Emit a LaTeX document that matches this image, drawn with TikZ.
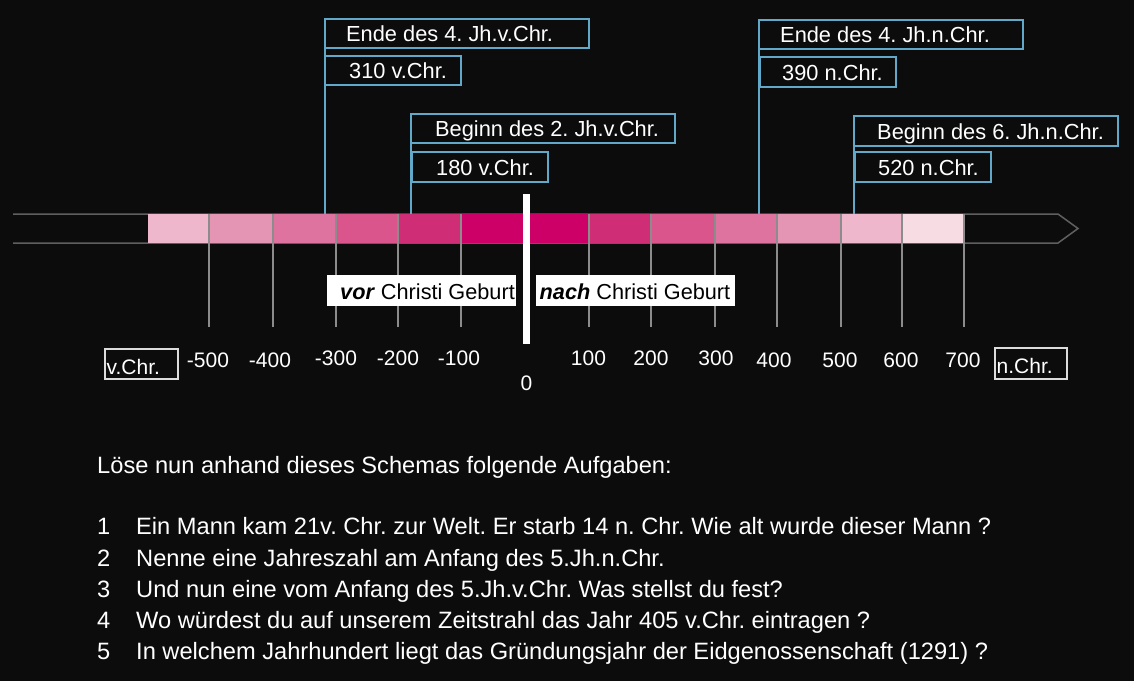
\documentclass[tikz,border=0pt]{standalone}
\usepackage{fontspec}
\setmainfont{Liberation Sans}
\definecolor{bg}{RGB}{12,12,12}
\definecolor{cblue}{RGB}{98,168,200}
\definecolor{tickgray}{RGB}{140,140,140}
\definecolor{outgray}{RGB}{95,95,95}
\definecolor{lgray}{RGB}{220,220,220}
\definecolor{sA}{HTML}{EEB7CC}
\definecolor{sB}{HTML}{E595B4}
\definecolor{sC}{HTML}{DF73A0}
\definecolor{sD}{HTML}{DA558C}
\definecolor{sE}{HTML}{D02D77}
\definecolor{sF}{HTML}{CC0066}
\definecolor{sG}{HTML}{F8DCE3}
\tikzset{
 cbox/.style={draw=cblue, line width=2pt, inner sep=0pt, outer sep=0pt, anchor=north west},
 ctext/.style={text=white, inner sep=0pt, anchor=base west, font=\fontsize{21.8}{25}\selectfont},
 cline/.style={draw=cblue, line width=2pt},
 tickline/.style={draw=tickgray, line width=1.5pt},
 barline/.style={draw=outgray, line width=1.5pt},
 num/.style={text=white, inner sep=0pt, anchor=base, font=\fontsize{21}{25}\selectfont},
 wbox/.style={fill=white, inner sep=0pt, outer sep=0pt, anchor=north west},
 wtext/.style={text=black, inner sep=0pt, anchor=base west, font=\fontsize{21.7}{25}\selectfont},
 lbox/.style={draw=lgray, line width=1.5pt, inner sep=0pt, outer sep=0pt, anchor=north west},
 ltext/.style={text=white, inner sep=0pt, anchor=base west, font=\fontsize{21}{25}\selectfont},
 qtext/.style={text=white, inner sep=0pt, anchor=base west, font=\fontsize{23.65}{28}\selectfont},
}
\newcommand\rectnode[6]{\node[#1, minimum width=#5-#3, minimum height=#6-#4] (#2) at (#3,#4) {};}
\begin{document}
\frenchspacing
\begin{tikzpicture}[x=1pt,y=-1pt]
\fill[bg] (0,0) rectangle (1134,681);
\useasboundingbox (0,0) rectangle (1134,681);
\coordinate (bartop) at (0,214);

% time bar
\draw[barline] (13,214) -- (1058,214) -- (1078,228.5) -- (1058,243) -- (13,243);
\foreach \a/\b/\c in {148/209/sA,209/273/sB,273/336/sC,336/398/sD,398/461/sE,461/526/sF,526/589/sF,589/651/sE,651/715/sD,715/777/sC,777/841/sB,841/902/sA,902/964/sG}
  \fill[\c] (\a,214) rectangle (\b,243);
\foreach \x in {209,273,336,398,461,589,651,715,777,841,902,964}
  \draw[tickline] (\x,214) -- (\x,327);

% year numbers
\foreach \x/\t/\y [count=\i] in {208/-500/367,270/-400/367,336/-300/365,398/-200/365,459/-100/365,588.5/100/365,651/200/365,716/300/365,774/400/367,840/500/367,901/600/367,963/700/367}
  \node[num] (num\i) at (\x,\y) {\t};
\node[num] (zero) at (526.5,390) {0};

% v.Chr. / n.Chr. boxes
\rectnode{lbox}{vchr}{105}{349}{178}{379}
\node[ltext] (vchrt) at (106.5,374) {v.Chr.};
\rectnode{lbox}{nchr}{995}{348}{1067}{379}
\node[ltext] (nchrt) at (996.5,373) {n.Chr.};

% vor / nach Christi Geburt
\rectnode{wbox}{vorbox}{327}{275}{516}{306}
\node[wtext] (vort) at (340,299) {\textbf{\textit{vor}} Christi Geburt};
\rectnode{wbox}{nachbox}{536}{275}{735}{306}
\node[wtext] (nacht) at (539.5,299) {\textbf{\textit{nach}} Christi Geburt};

% year zero
\fill[white] (523,194) rectangle (530,344);

% callouts
\rectnode{cbox}{A1}{325}{19}{589}{48}
\node[ctext] (A1t) at (346,41.5) {Ende des 4. Jh.v.Chr.};
\rectnode{cbox}{A2}{325}{56}{461}{85}
\node[ctext] (A2t) at (349,78.5) {310 v.Chr.};
\rectnode{cbox}{B1}{411}{114}{675}{143}
\node[ctext] (B1t) at (435,136.5) {Beginn des 2. Jh.v.Chr.};
\rectnode{cbox}{B2}{412}{152}{548}{182}
\node[ctext] (B2t) at (436,175.5) {180 v.Chr.};
\rectnode{cbox}{C1}{759}{20}{1023}{49}
\node[ctext] (C1t) at (780,42.5) {Ende des 4. Jh.n.Chr.};
\rectnode{cbox}{C2}{760}{57}{896}{87}
\node[ctext] (C2t) at (782,80.5) {390 n.Chr.};
\rectnode{cbox}{D1}{854}{116}{1118}{146}
\node[ctext] (D1t) at (877,139.5) {Beginn des 6. Jh.n.Chr.};
\rectnode{cbox}{D2}{855}{152}{991}{182}
\node[ctext] (D2t) at (878,175.5) {520 n.Chr.};

\draw[cline] (A1.south west) -- (A1.south west |- bartop);
\draw[cline] (B1.south west) -- (B1.south west |- bartop);
\draw[cline] (C1.south west) -- (C1.south west |- bartop);
\draw[cline] (D1.south west) -- (D1.south west |- bartop);

% questions
\node[qtext] (intro) at (97,473) {Löse nun anhand dieses Schemas folgende Aufgaben:};
\node[qtext] (q1n) at (97,534.3) {1};
\node[qtext] (q1) at (136,534.3) {Ein Mann kam 21v. Chr. zur Welt. Er starb 14 n. Chr. Wie alt wurde dieser Mann ?};
\node[qtext] (q2n) at (97,566) {2};
\node[qtext] (q2) at (136,566) {Nenne eine Jahreszahl am Anfang des 5.Jh.n.Chr.};
\node[qtext] (q3n) at (97,597.7) {3};
\node[qtext] (q3) at (136,597.7) {Und nun eine vom Anfang des 5.Jh.v.Chr. Was stellst du fest?};
\node[qtext] (q4n) at (97,628.7) {4};
\node[qtext] (q4) at (136,628.7) {Wo würdest du auf unserem Zeitstrahl das Jahr 405 v.Chr. eintragen ?};
\node[qtext] (q5n) at (97,659.3) {5};
\node[qtext] (q5) at (136,659.3) {In welchem Jahrhundert liegt das Gründungsjahr der Eidgenossenschaft (1291) ?};
\end{tikzpicture}
\end{document}
